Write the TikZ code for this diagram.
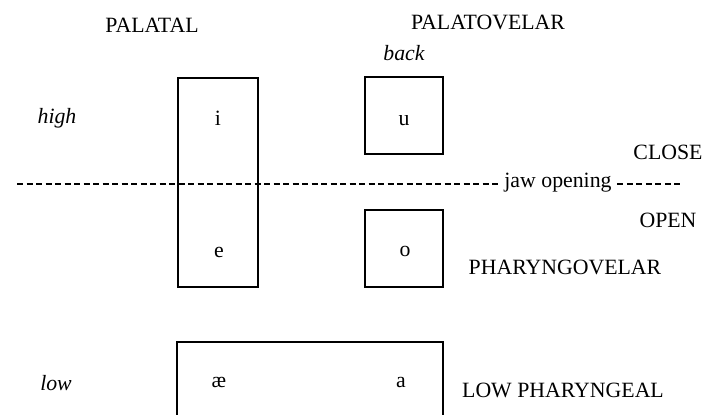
\documentclass[tikz,border=0pt]{standalone}
\usepackage{fontspec}
\setmainfont{Liberation Serif}
\begin{document}
\begin{tikzpicture}[x=1pt,y=-1pt,
  lbl/.style={anchor=base,inner sep=0pt,font=\fontsize{21.8}{24}\selectfont},
  ilbl/.style={lbl,font=\fontsize{21.8}{24}\selectfont\itshape},
  vbox/.style={draw,line width=1.9pt,inner sep=0pt},
  jawline/.style={line width=1.8pt,dash pattern=on 6pt off 3.5pt}]
\useasboundingbox (0,0) rectangle (710,415);
% boxes
\node[vbox,minimum width=80pt,minimum height=209pt] (pal) at (218,182.5) {};
\node[vbox,minimum width=78pt,minimum height=77pt] (ubox) at (404,115.5) {};
\node[vbox,minimum width=78pt,minimum height=77pt] (obox) at (404,248.5) {};
\node[vbox,minimum width=266pt,minimum height=90pt] (low) at (310,387) {};
% vowels
\node[lbl] (i) at (218,125) {i};
\node[lbl] (e) at (219,257) {e};
\node[lbl] (u) at (404,125) {u};
\node[lbl] (o) at (405,256) {o};
\node[lbl] (ae) at (219,387) {æ};
\node[lbl] (a) at (401,387) {a};
% headings
\node[lbl] (palatal) at (152,32) {PALATAL};
\node[lbl] (palatovelar) at (488,29) {PALATOVELAR};
\node[ilbl] (back) at (404,60) {back};
\node[ilbl] (high) at (57,123) {high};
\node[ilbl] (lowl) at (56,390) {low};
\node[lbl] (close) at (668,159) {CLOSE};
\node[lbl] (open) at (668,227) {OPEN};
\node[lbl] (phv) at (565,274) {PHARYNGOVELAR};
\node[lbl] (lph) at (563,397) {LOW PHARYNGEAL};
% jaw opening line
\node[lbl,inner xsep=5.5pt] (jaw) at (558,187) {jaw opening};
\coordinate (jl) at (17,184);
\coordinate (jr) at (683,184);
\draw[jawline] (jl) -- (jl -| jaw.west);
\draw[jawline] (jr -| jaw.east) -- (jr);
\end{tikzpicture}
\end{document}
